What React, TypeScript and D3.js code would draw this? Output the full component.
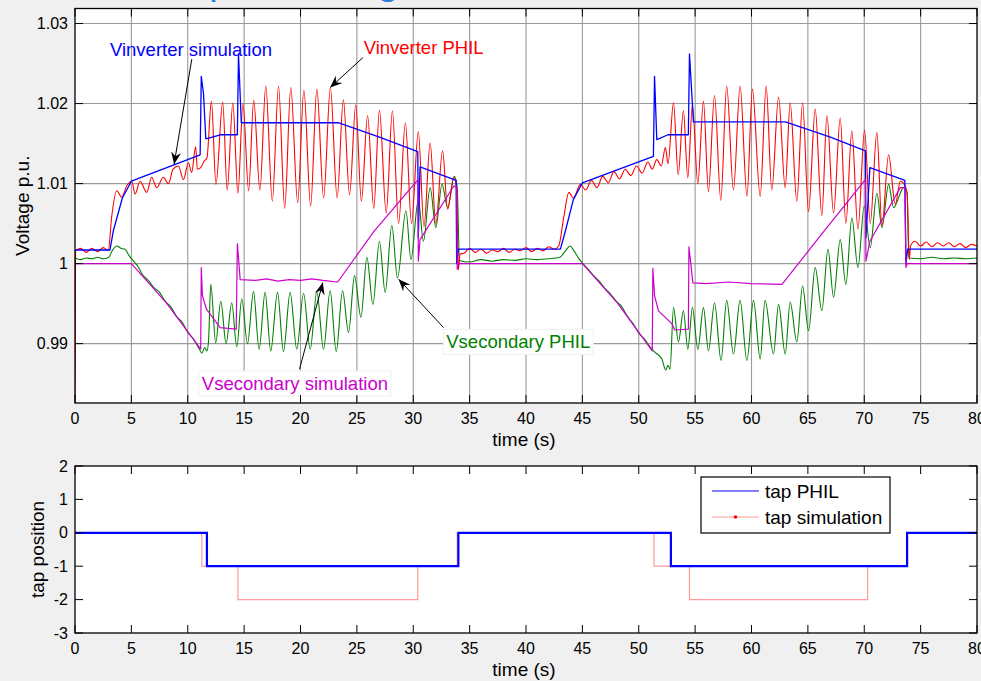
import * as d3 from 'd3'
import { useEffect, useRef } from 'react'

type Pt = [number, number]

// tick labels
const timeTicks = [0, 5, 10, 15, 20, 25, 30, 35, 40, 45, 50, 55, 60, 65, 70, 75, 80]
const voltTicks = [0.99, 1, 1.01, 1.02, 1.03]
const tapTicks = [-3, -2, -1, 0, 1, 2]

// Vinverter simulation (blue)
const vinvSim: Pt[] = [
  [0, 1.0017], [3.1, 1.0017], [3.4, 1.0041], [4.2, 1.0082], [5.0, 1.0103], [11.1, 1.0136],
  [11.2, 1.0234], [11.4, 1.0212], [11.6, 1.0156], [12.9, 1.0161], [14.4, 1.0161], [14.5, 1.0262],
  [14.75, 1.0176], [23.4, 1.0176], [27.0, 1.0158], [30.4, 1.014], [30.45, 1.0032], [30.6, 1.0121],
  [33.8, 1.0104], [33.85, 1.0], [34.0, 1.0018],
  [43.05, 1.0018], [43.5, 1.0041], [44.2, 1.008], [45.0, 1.0101], [51.3, 1.0134], [51.4, 1.0234],
  [51.6, 1.0155], [52.6, 1.0161], [54.4, 1.0161], [54.5, 1.0262], [54.85, 1.0177], [63.0, 1.0177],
  [67.0, 1.0158], [70.1, 1.0141], [70.15, 1.0032], [70.5, 1.012], [73.6, 1.0104], [73.7, 1.0],
  [73.85, 1.0018], [80, 1.0018],
]

// Vinverter PHIL (red)
const vinvPhil: Pt[] = [
  [0, 0.9822], [0.05, 1.0016], [0.5, 1.0019], [1.0, 1.0014], [1.5, 1.0019], [2.0, 1.0015], [2.5, 1.002], [2.95, 1.0016],
  [3.25, 1.0058], [3.7, 1.0091], [4.14, 1.0083], [4.58, 1.0097], [5.03, 1.0103], [5.33, 1.0087], [5.77, 1.0103],
  [6.36, 1.0089], [6.8, 1.0108], [7.25, 1.0095], [7.84, 1.0108], [8.28, 1.01], [8.7, 1.0118], [9.17, 1.0122],
  [9.62, 1.0105], [10.06, 1.0126], [10.35, 1.0114], [10.7, 1.0146], [10.85, 1.0118], [11.15, 1.012], [11.45, 1.0128],
  [11.7, 1.0132],
  [12.1, 1.0203], [12.5, 1.0099], [13.1, 1.0202], [13.5, 1.0092], [14.0, 1.0201], [14.45, 1.0088], [14.9, 1.02],
  [15.4, 1.0091], [15.85, 1.0204], [16.4, 1.0092], [16.92, 1.0222], [17.5, 1.0078], [18.05, 1.0222], [18.6, 1.0069],
  [19.14, 1.022], [19.75, 1.0076], [20.3, 1.0217], [20.9, 1.0072], [21.45, 1.0218], [22.05, 1.0082], [22.65, 1.022],
  [23.25, 1.0082], [23.8, 1.0205], [24.35, 1.0086], [24.9, 1.0198], [25.4, 1.0078], [25.95, 1.0185], [26.5, 1.0069],
  [27.0, 1.0192], [27.6, 1.0063], [28.15, 1.0191], [28.7, 1.005], [29.3, 1.0176], [29.85, 1.005], [30.45, 1.0165],
  [30.95, 1.0046], [31.5, 1.0151], [32.0, 1.0049], [32.6, 1.0141], [33.05, 1.0068], [33.6, 1.0108], [33.85, 1.0095],
  [34.0, 0.9992], [34.15, 1.0012], [34.5, 1.0013], [35, 1.0019], [35.5, 1.0014], [36, 1.0018], [36.5, 1.0013],
  [37, 1.0017], [37.5, 1.0015], [38, 1.0019], [38.5, 1.0014], [39, 1.0018], [39.5, 1.0016], [40, 1.002],
  [40.5, 1.0015], [41, 1.0019], [41.5, 1.0016], [42, 1.0021], [42.5, 1.0018], [42.9, 1.0022],
  [43.35, 1.0058], [43.8, 1.0089], [44.2, 1.0082], [44.83, 1.0099], [45.3, 1.0092], [45.8, 1.0104], [46.3, 1.0095],
  [46.8, 1.0109], [47.3, 1.0101], [47.8, 1.0115], [48.3, 1.0106], [48.8, 1.0118], [49.3, 1.011], [49.8, 1.0122],
  [50.3, 1.0113], [50.8, 1.0127], [51.2, 1.0118], [51.6, 1.013], [52.0, 1.0122], [52.36, 1.0145], [52.6, 1.0125],
  [53.08, 1.0201], [53.5, 1.0111], [53.96, 1.0191], [54.35, 1.0107], [54.76, 1.0198], [55.24, 1.01], [55.74, 1.0203],
  [56.18, 1.009], [56.72, 1.021], [57.28, 1.0079], [57.8, 1.0222], [58.4, 1.0092], [58.99, 1.0222], [59.6, 1.0084],
  [60.08, 1.0218], [60.77, 1.0084], [61.3, 1.0222], [61.8, 1.0092], [62.4, 1.0208], [62.99, 1.0095], [63.43, 1.0201],
  [64.02, 1.0078], [64.53, 1.0201], [65.06, 1.0065], [65.65, 1.0193], [66.24, 1.006], [66.69, 1.0185], [67.28, 1.0063],
  [67.87, 1.0182], [68.37, 1.005], [68.9, 1.0166], [69.44, 1.0043], [70.03, 1.0167], [70.53, 1.005], [71.12, 1.0164],
  [71.57, 1.0047], [72.16, 1.0136], [72.75, 1.0074], [73.2, 1.0103], [73.6, 1.0098], [73.8, 1.0088], [74.0, 1.0005],
  [74.1, 1.0022], [74.5, 1.0028], [75, 1.0022], [75.5, 1.0027], [76, 1.0021], [76.5, 1.0026], [77, 1.0022],
  [77.5, 1.0026], [78, 1.0021], [78.5, 1.0025], [79, 1.002], [79.5, 1.0024], [80, 1.0022],
]

// Vsecondary simulation (magenta)
const vsecSim: Pt[] = [
  [0, 1.0], [5.0, 1.0], [8.1, 0.9951], [11.15, 0.9893], [11.2, 0.9995], [11.3, 0.996], [11.66, 0.9943],
  [12.87, 0.992], [14.3, 0.9918], [14.4, 1.0025], [14.65, 0.998], [16, 0.9979], [17, 0.9981], [18, 0.9978],
  [19, 0.998], [20, 0.9979], [21, 0.9981], [22, 0.9979], [23.3, 0.9977], [26.5, 1.004], [30.42, 1.0105],
  [30.45, 1.0003], [30.6, 1.003], [33.6, 1.0097], [33.85, 1.0095], [33.9, 0.9993], [34.0, 1.0],
  [45, 1.0], [48.1, 0.9951], [51.2, 0.9891], [51.25, 0.9994], [51.4, 0.996], [51.75, 0.9941], [52.93, 0.9925],
  [53.2, 0.9917], [54.4, 0.9918], [54.45, 1.0021], [54.8, 0.9976], [56, 0.9975], [58, 0.9977], [60, 0.9975],
  [62.7, 0.9974], [66.4, 1.004], [70.1, 1.0105], [70.15, 1.0003], [70.5, 1.0028], [73.2, 1.0095], [73.6, 1.0095],
  [73.7, 0.9995], [73.8, 1.0], [80, 1.0],
]

// Vsecondary PHIL (green)
const vsecPhil: Pt[] = [
  [0, 1.0007], [0.5, 1.0005], [1, 1.0007], [1.5, 1.0006], [2, 1.0008], [2.5, 1.0006], [3.0, 1.0008], [3.3, 1.0016],
  [3.7, 1.0022], [4.1, 1.0019], [4.44, 1.0018], [4.8, 1.001], [5.2, 1.0003], [5.6, 0.9996], [6, 0.9986],
  [6.5, 0.9979], [7, 0.9970], [7.5, 0.9964], [8, 0.9953], [8.5, 0.9946], [9, 0.9934], [9.5, 0.9927], [10, 0.9914],
  [10.5, 0.9906], [11, 0.9894], [11.25, 0.9888], [11.5, 0.9895], [11.7, 0.9891], [11.85, 0.9905],
  [12.04, 0.9974], [12.48, 0.9901], [12.93, 0.9953], [13.4, 0.99], [13.9, 0.9951], [14.35, 0.9896], [14.79, 0.9956],
  [15.3, 0.99], [15.83, 0.9965], [16.33, 0.9893], [16.86, 0.9964], [17.36, 0.9891], [17.96, 0.9964], [18.49, 0.989],
  [19.08, 0.9964], [19.67, 0.9893], [20.27, 0.9963], [20.86, 0.9893], [21.45, 0.9965], [22.04, 0.9893],
  [22.63, 0.9966], [23.17, 0.989], [23.73, 0.9966], [24.26, 0.9914], [24.79, 0.9985], [25.36, 0.9933],
  [25.89, 1.0008], [26.42, 0.9949], [27.0, 1.0028], [27.51, 0.9964], [28.1, 1.0048], [28.6, 0.9982],
  [29.35, 1.0066], [29.8, 1.0005], [30.45, 1.008], [30.9, 1.0028], [31.5, 1.0095], [32.0, 1.0045], [32.55, 1.0099],
  [33.05, 1.007], [33.64, 1.0109], [33.9, 1.0095], [34.1, 1.0004], [35, 1.0002], [36, 1.0005], [37, 1.0003],
  [38, 1.0005], [39, 1.0004], [40, 1.0006], [41, 1.0005], [42, 1.0006], [43, 1.0008], [43.5, 1.0016],
  [43.9, 1.0022], [44.3, 1.0015], [44.7, 1.0006], [45, 1.0001], [45.5, 0.9993], [46, 0.9985], [46.5, 0.9978],
  [47, 0.9969], [47.5, 0.9962], [48, 0.9953], [48.5, 0.9946], [49, 0.9934], [49.5, 0.9925], [50, 0.9913],
  [50.5, 0.9906], [51, 0.9896], [51.45, 0.9889], [52.04, 0.9881], [52.4, 0.9867], [52.6, 0.9873], [52.78, 0.9868],
  [53.08, 0.9945], [53.52, 0.9902], [53.96, 0.9941], [54.35, 0.9893], [54.76, 0.9945], [55.24, 0.9893],
  [55.74, 0.9945], [56.18, 0.9891], [56.72, 0.9951], [57.3, 0.9879], [57.8, 0.9954], [58.4, 0.9887],
  [58.99, 0.9954], [59.59, 0.9879], [60.18, 0.9954], [60.77, 0.9881], [61.2, 0.9954], [61.95, 0.9887],
  [62.4, 0.9949], [62.99, 0.9887], [63.43, 0.9952], [64.02, 0.9902], [64.53, 0.9972], [65.06, 0.9916],
  [65.65, 0.9995], [66.24, 0.9941], [66.78, 1.0018], [67.28, 0.9958], [67.87, 1.003], [68.37, 0.9974],
  [68.9, 1.0057], [69.44, 0.9995], [70.0, 1.0072], [70.53, 1.002], [71.12, 1.0088], [71.57, 1.0045],
  [72.16, 1.0099], [72.6, 1.007], [73.5, 1.0095], [73.8, 1.0088], [73.95, 1.0007], [75, 1.0006], [76, 1.0008],
  [77, 1.0006], [78, 1.0007], [79, 1.0006], [80, 1.0007],
]

// tap positions, step-after
const tapPhil: Pt[] = [[0, 0], [11.7, -1], [34.0, 0], [52.85, -1], [73.8, 0], [80, 0]]
const tapSim: Pt[] = [[0, 0], [11.25, -1], [14.45, -2], [30.4, -1], [33.9, 0], [51.35, -1], [54.5, -2], [70.3, -1], [73.75, 0], [80, 0]]

// annotations: text anchor and arrow tail -> head, in data units
const notes = [
  { text: 'Vinverter simulation', color: '#0000ff', at: [3.1, 1.026], from: [10.36, 1.02555], to: [8.79, 1.01243], box: false },
  { text: 'Vinverter PHIL', color: '#ff0000', at: [25.6, 1.0262], from: [25.54, 1.02575], to: [22.63, 1.022], box: false },
  { text: 'Vsecondary simulation', color: '#cc00cc', at: [11.25, 0.9842], from: [19.91, 0.9868], to: [21.98, 0.99763], box: true },
  { text: 'Vsecondary PHIL', color: '#008000', at: [32.93, 0.9894], from: [32.69, 0.992], to: [28.7, 0.99805], box: true },
]

const FONT = 'Liberation Sans, Arial, Helvetica, sans-serif'

export default function App() {
  const ref = useRef<SVGSVGElement>(null)

  useEffect(() => {
    const svg = d3.select(ref.current)
    svg.selectAll('*').remove()

    const L = 75, R = 977
    const topBox = { top: 8.5, bottom: 403 }
    const botBox = { top: 466, bottom: 633 }

    const x = d3.scaleLinear().domain([0, 80]).range([L, R])
    const yV = d3.scaleLinear().domain([0.98258, 1.03188]).range([topBox.bottom, topBox.top])
    const yT = d3.scaleLinear().domain([-3, 2]).range([botBox.bottom, botBox.top])

    // title remnants peeking in at the top
    svg.append('g').attr('fill', '#2a80d8').attr('font-family', FONT).attr('font-size', 40)
      .selectAll('text').data([['p', 209], ['g', 377]]).join('text')
      .attr('x', (d) => d[1] as number).attr('y', -6.5).text((d) => d[0] as string)

    const defs = svg.append('defs')
    defs.append('clipPath').attr('id', 'clipTop').append('rect')
      .attr('x', L).attr('y', topBox.top).attr('width', R - L).attr('height', topBox.bottom - topBox.top)
    defs.append('clipPath').attr('id', 'clipBot').append('rect')
      .attr('x', L).attr('y', botBox.top).attr('width', R - L).attr('height', botBox.bottom - botBox.top)
    defs.append('marker').attr('id', 'ah').attr('viewBox', '0 0 12 10').attr('refX', 12).attr('refY', 5)
      .attr('markerWidth', 12).attr('markerHeight', 10).attr('markerUnits', 'userSpaceOnUse').attr('orient', 'auto')
      .append('path').attr('d', 'M0,0 L12,5 L0,10 L4,5 Z').attr('fill', '#000')

    // ---------- top axes ----------
    const gt = svg.append('g')
    gt.append('rect').attr('x', L).attr('y', topBox.top).attr('width', R - L)
      .attr('height', topBox.bottom - topBox.top).attr('fill', '#fff')

    gt.append('g').attr('stroke', '#9a9a9a').attr('stroke-width', 1.1)
      .selectAll('line.gx').data(timeTicks.slice(1, -1)).join('line')
      .attr('x1', (d) => x(d)).attr('x2', (d) => x(d)).attr('y1', topBox.top).attr('y2', topBox.bottom)
    gt.append('g').attr('stroke', '#9a9a9a').attr('stroke-width', 1.1)
      .selectAll('line').data(voltTicks).join('line')
      .attr('x1', L).attr('x2', R).attr('y1', (d) => yV(d)).attr('y2', (d) => yV(d))

    // measured signals look like smooth sinusoids, simulated ones are piecewise
    const smooth = d3.line<Pt>().x((d) => x(d[0])).y((d) => yV(d[1])).curve(d3.curveMonotoneX)
    const lineV = d3.line<Pt>().x((d) => x(d[0])).y((d) => yV(d[1]))
    const plot = gt.append('g').attr('clip-path', 'url(#clipTop)').attr('fill', 'none')
      .attr('stroke-linejoin', 'round')
    const series: [Pt[], string, number, d3.Line<Pt>][] = [
      [vsecPhil, '#008000', 1.1, smooth],
      [vinvPhil, '#ff0000', 1.1, smooth],
      [vinvSim, '#0000ff', 1.3, lineV],
      [vsecSim, '#cc00cc', 1.2, lineV],
    ]
    series.forEach(([d, c, w, ln]) => {
      plot.append('path').datum(d).attr('d', ln).attr('stroke', c).attr('stroke-width', w)
    })

    // annotations
    const ann = gt.append('g').attr('font-family', FONT).attr('font-size', 18.5)
    notes.forEach((n) => {
      if (n.box) {
        const t = ann.append('text').attr('x', x(n.at[0])).attr('y', yV(n.at[1])).text(n.text)
        const bb = (t.node() as SVGTextElement).getBBox()
        t.remove()
        ann.append('rect').attr('x', bb.x - 3).attr('y', bb.y - 2).attr('width', bb.width + 6)
          .attr('height', bb.height + 4).attr('fill', '#fff').attr('stroke', '#f0f0f0')
      }
      ann.append('text').attr('x', x(n.at[0])).attr('y', yV(n.at[1])).attr('fill', n.color).text(n.text)
      ann.append('line').attr('x1', x(n.from[0])).attr('y1', yV(n.from[1]))
        .attr('x2', x(n.to[0])).attr('y2', yV(n.to[1]))
        .attr('stroke', '#000').attr('stroke-width', 1).attr('marker-end', 'url(#ah)')
    })

    const frame = (g: d3.Selection<SVGGElement, unknown, null, undefined>, y0: number, y1: number,
      ys: number[], ysc: d3.ScaleLinear<number, number>) => {
      const tk = g.append('g').attr('stroke', '#000').attr('stroke-width', 1)
      tk.selectAll('line.b').data(timeTicks).join('line').attr('class', 'b')
        .attr('x1', (d) => x(d)).attr('x2', (d) => x(d)).attr('y1', y1).attr('y2', y1 - 8)
      tk.selectAll('line.t').data(timeTicks).join('line').attr('class', 't')
        .attr('x1', (d) => x(d)).attr('x2', (d) => x(d)).attr('y1', y0).attr('y2', y0 + 8)
      tk.selectAll('line.l').data(ys).join('line').attr('class', 'l')
        .attr('x1', L).attr('x2', L + 8).attr('y1', (d) => ysc(d)).attr('y2', (d) => ysc(d))
      tk.selectAll('line.r').data(ys).join('line').attr('class', 'r')
        .attr('x1', R).attr('x2', R - 8).attr('y1', (d) => ysc(d)).attr('y2', (d) => ysc(d))
      g.append('rect').attr('x', L).attr('y', y0).attr('width', R - L).attr('height', y1 - y0)
        .attr('fill', 'none').attr('stroke', '#000').attr('stroke-width', 1.3)
      const lab = g.append('g').attr('font-family', FONT).attr('font-size', 16).attr('fill', '#000')
      lab.selectAll('text.x').data(timeTicks).join('text').attr('class', 'x')
        .attr('x', (d) => x(d)).attr('y', y1 + 21).attr('text-anchor', 'middle').text((d) => d)
      lab.selectAll('text.y').data(ys).join('text').attr('class', 'y')
        .attr('x', L - 7).attr('y', (d) => ysc(d) + 5.5).attr('text-anchor', 'end').text((d) => d)
      g.append('text').attr('font-family', FONT).attr('font-size', 19)
        .attr('x', 524).attr('y', y1 + 43).attr('text-anchor', 'middle').text('time (s)')
    }

    frame(gt, topBox.top, topBox.bottom, voltTicks, yV)
    gt.append('text').attr('font-family', FONT).attr('font-size', 19).attr('text-anchor', 'middle')
      .attr('transform', `translate(29,${(topBox.top + topBox.bottom) / 2}) rotate(-90)`).text('Voltage p.u.')

    // ---------- bottom axes ----------
    const gb = svg.append('g')
    gb.append('rect').attr('x', L).attr('y', botBox.top).attr('width', R - L)
      .attr('height', botBox.bottom - botBox.top).attr('fill', '#fff')
    const lineT = d3.line<Pt>().x((d) => x(d[0])).y((d) => yT(d[1])).curve(d3.curveStepAfter)
    const pb = gb.append('g').attr('clip-path', 'url(#clipBot)').attr('fill', 'none')
    pb.append('path').datum(tapSim).attr('d', lineT).attr('stroke', '#ff9a9a').attr('stroke-width', 1.2)
    pb.append('path').datum(tapPhil).attr('d', lineT).attr('stroke', '#0000ff').attr('stroke-width', 2.2)

    frame(gb, botBox.top, botBox.bottom, tapTicks, yT)
    gb.append('text').attr('font-family', FONT).attr('font-size', 19).attr('text-anchor', 'middle')
      .attr('transform', `translate(44,${(botBox.top + botBox.bottom) / 2}) rotate(-90)`).text('tap position')

    // legend
    const lg = gb.append('g').attr('font-family', FONT).attr('font-size', 19)
    lg.append('rect').attr('x', 701).attr('y', 477).attr('width', 189).attr('height', 56)
      .attr('fill', '#fff').attr('stroke', '#000').attr('stroke-width', 1.2)
    lg.append('line').attr('x1', 712).attr('x2', 759).attr('y1', 491).attr('y2', 491)
      .attr('stroke', '#0000ff').attr('stroke-width', 1.2)
    lg.append('text').attr('x', 765).attr('y', 497.5).text('tap PHIL')
    lg.append('line').attr('x1', 712).attr('x2', 759).attr('y1', 517).attr('y2', 517)
      .attr('stroke', '#ff9a9a').attr('stroke-width', 1.2)
    lg.append('circle').attr('cx', 735.5).attr('cy', 517).attr('r', 1.8).attr('fill', '#ff0000')
    lg.append('text').attr('x', 765).attr('y', 523.5).text('tap simulation')
  }, [])

  return (
    <svg ref={ref} width={981} height={681}
      style={{ position: 'absolute', left: 0, top: 0, background: '#f0f0f0', overflow: 'hidden' }} />
  )
}
